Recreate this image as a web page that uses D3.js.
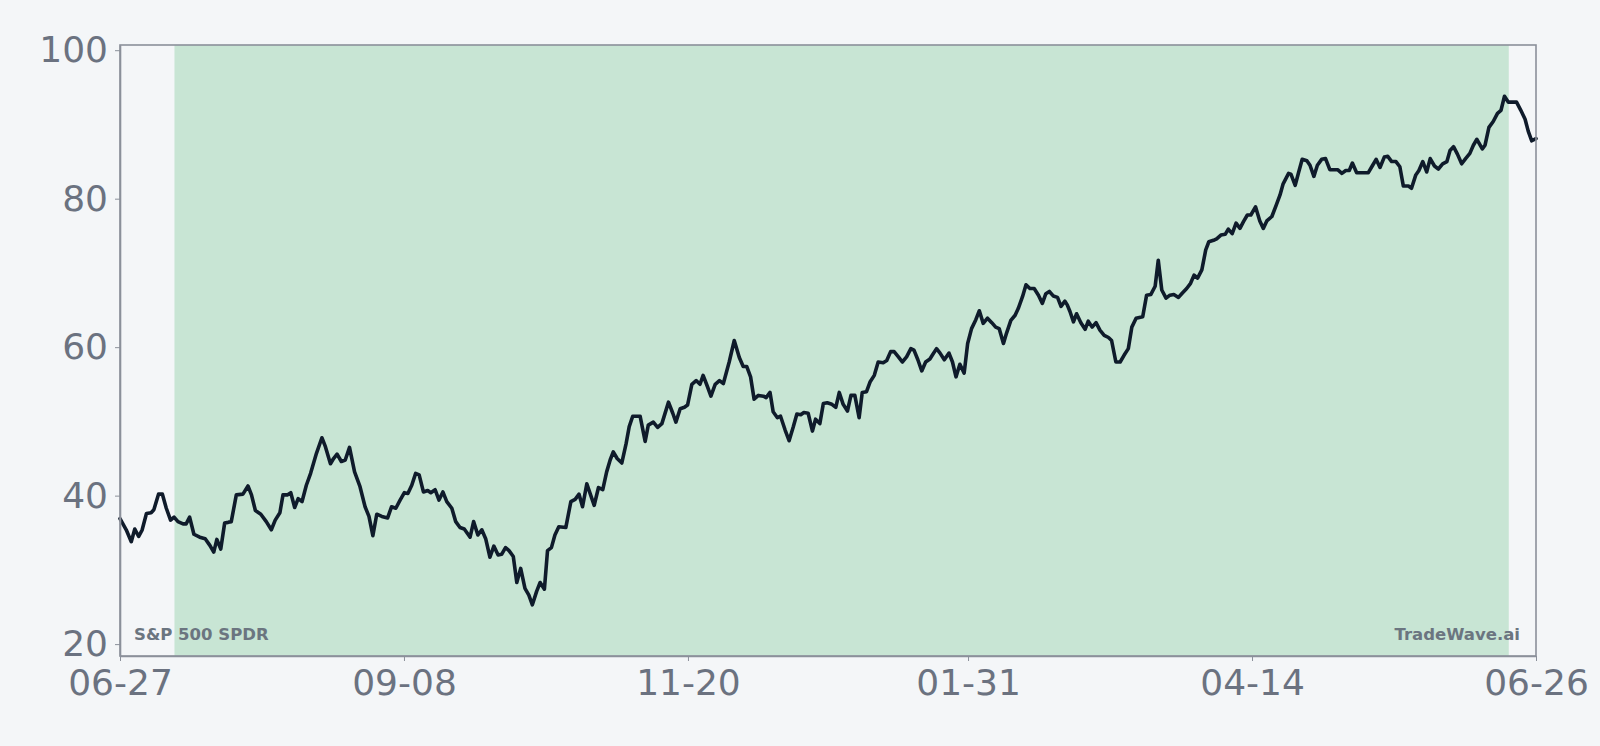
<!DOCTYPE html>
<html>
<head>
<meta charset="utf-8">
<script src="https://cdn.jsdelivr.net/npm/d3@7"></script>
<style>
  html, body { margin: 0; padding: 0; background: #f4f6f8; }
  svg { display: block; }
</style>
</head>
<body>
<svg id="chart" width="1600" height="746"></svg>
<script>
// ---- Data ----
const startDateStr = "2024-06-27";
const endDateStr = "2025-06-26";

// days after the start date for each point of the line
const dayOffsets = [
  0,1.6,2.9,3.8,4.8,5.7,6.8,8.0,8.7,9.9,10.9,11.9,13.0,13.9,14.9,16.2,17.0,17.9,19.0,20.5,
  21.9,23.1,24.1,24.9,25.9,26.9,27.8,28.6,29.9,31.6,32.9,33.8,34.8,36.2,37.6,38.9,39.9,41.1,41.9,43.0,
  43.9,44.9,45.8,46.8,47.9,49.0,50.5,51.9,52.8,54.1,54.9,55.8,56.9,57.9,59.0,60.3,
  61.7,63.0,64.0,65.0,66.0,67.3,68.8,69.8,70.9,72.0,73.1,74.0,75.0,76.0,76.9,78.0,79.1,79.9,81.0,82.0,
  83.0,84.0,85.3,86.3,87.4,88.5,90.0,90.9,92.0,93.0,94.0,95.1,96.1,97.2,98.1,99.1,100.0,101.1,102.0,103.0,
  104.1,105.1,106.0,107.1,108.0,109.1,109.9,110.9,111.8,112.8,114.6,115.9,117.0,118.0,118.9,120.0,121.3,121.9,
  123.0,124.1,125.1,126.0,126.8,127.8,129.0,130.1,130.9,131.8,133.7,135.0,135.8,137.1,138.2,139.3,141.0,142.1,142.9,144.0,
  145.1,145.9,147.0,148.1,149.1,149.9,151.0,151.9,153.0,154.1,155.1,156.6,157.9,159.2,160.2,161.1,162.1,163.0,164.1,165.4,
  166.1,167.1,167.9,169.0,169.8,171.0,172.0,173.1,174.0,175.0,175.8,176.9,178.0,178.8,179.9,180.8,181.8,183.0,
  184.0,184.9,185.9,187.0,187.9,188.9,190.0,190.8,191.9,192.8,193.9,194.9,196.2,197.1,198.1,199.0,200.1,201.1,202.2,203.3,
  204.1,205.1,206.1,207.1,208.2,208.8,209.9,210.8,211.9,213.1,214.0,214.9,215.9,217.0,217.9,218.9,220.0,220.9,221.9,223.0,
  224.1,225.1,226.0,227.1,227.9,229.0,230.1,230.9,232.0,232.9,233.9,235.0,236.1,237.1,238.0,238.9,239.9,241.0,241.9,242.9,
  243.5,244.2,245.1,245.9,247.0,248.1,248.9,249.9,250.9,251.9,253.0,254.1,254.9,256.0,257.1,258.1,259.2,260.1,261.2,262.9,
  263.9,265.0,266.1,266.9,267.8,268.9,269.9,270.9,272.1,273.1,274.2,275.2,276.1,277.0,278.1,279.1,279.9,281.1,281.9,283.0,
  284.1,284.9,285.9,286.9,287.9,288.8,289.8,290.7,291.9,293.0,293.9,294.8,296.1,297.2,298.2,299.0,300.4,301.0,
  302.1,302.9,303.9,305.1,305.9,306.9,307.8,308.9,309.9,311.0,312.2,313.0,314.1,315.1,316.0,316.8,317.9,319.2,320.9,321.9,
  322.9,323.9,325.0,325.9,326.9,328.0,329.0,329.9,331.2,332.0,333.1,333.9,334.9,335.9,336.8,337.9,338.9,340.0,341.1,341.9,
  342.8,343.8,344.9,345.9,347.0,347.9,348.8,350.2,350.9,351.9,353.0,354.1,355.0,355.9,356.9,357.9,359.0,360.1,361.2,362.0,
  362.9,364
];

const values = [
  36.9,35.4,33.8,35.5,34.5,35.4,37.6,37.7,38.1,40.2,40.2,38.3,36.7,37.1,36.5,36.2,36.2,37.1,34.8,34.4,
  34.2,33.3,32.4,34.1,32.8,36.3,36.4,36.5,40.1,40.2,41.3,40.1,38.0,37.5,36.5,35.4,36.7,37.7,40.1,40.1,
  40.4,38.4,39.6,39.2,41.4,43.0,45.7,47.8,46.6,44.3,45.0,45.6,44.6,44.8,46.5,43.2,
  41.2,38.5,37.2,34.6,37.5,37.2,37.0,38.5,38.3,39.4,40.4,40.3,41.4,43.0,42.8,40.5,40.7,40.4,40.8,39.4,
  40.5,39.2,38.3,36.5,35.7,35.5,34.4,36.5,34.7,35.4,34.2,31.7,33.2,32.0,32.1,33.0,32.6,31.8,28.3,30.2,
  27.5,26.6,25.3,27.1,28.3,27.4,32.6,33.0,34.7,35.8,35.7,39.2,39.5,40.2,38.5,41.6,39.6,38.7,
  41.1,40.8,43.2,44.8,45.9,45.0,44.4,47.0,49.3,50.7,50.7,47.3,49.5,49.9,49.2,49.7,52.6,51.1,49.9,51.7,
  51.9,52.2,55.0,55.5,55.0,56.2,54.7,53.4,55.0,55.5,55.1,58.0,60.9,58.6,57.4,57.4,56.0,53.0,53.5,53.4,
  53.2,53.9,51.3,50.5,50.7,48.8,47.4,49.3,51.0,50.9,51.2,51.1,48.7,50.3,49.7,52.4,52.5,52.3,
  51.9,53.9,52.3,51.4,53.5,53.5,50.5,53.9,54.0,55.3,56.2,58.0,57.9,58.2,59.4,59.4,58.7,58.0,58.7,59.8,
  59.6,58.3,56.8,58.0,58.4,58.9,59.8,59.2,58.3,59.2,58.0,56.0,57.7,56.5,60.5,62.5,63.7,64.9,63.2,63.9,
  63.3,62.7,62.5,60.5,61.9,63.6,64.3,65.2,66.8,68.4,67.9,67.9,67.0,65.9,67.2,67.5,66.9,66.7,65.5,66.2,
  65.7,64.8,63.4,64.5,63.3,62.4,63.5,62.7,63.3,62.3,61.6,61.3,60.9,58.0,58.0,58.9,59.8,62.7,63.9,64.1,
  67.0,67.1,68.2,71.7,67.7,66.6,67.0,67.1,66.7,67.3,67.9,68.6,69.7,69.3,70.4,73.1,74.2,74.4,74.6,75.1,
  75.2,75.9,75.3,76.7,76.0,76.9,77.8,77.8,78.9,77.0,76.0,77.0,77.6,79.1,80.5,82.0,83.4,83.3,
  81.8,83.4,85.3,85.1,84.5,83.0,84.5,85.3,85.4,83.9,83.9,83.9,83.4,83.8,83.8,84.8,83.5,83.5,83.5,84.4,
  85.3,84.2,85.6,85.7,85.0,85.0,84.3,81.7,81.7,81.4,83.2,83.8,85.0,83.6,85.4,84.4,84.0,84.7,85.0,86.5,
  87.0,86.0,84.7,85.4,86.1,87.2,88.0,86.7,87.2,89.6,90.4,91.5,91.9,93.8,93.0,93.0,93.0,91.9,90.7,89.1,
  87.8,88.1
];

const xTickDates = ["2024-06-27","2024-09-08","2024-11-20","2025-01-31","2025-04-14","2025-06-26"];
const yTicks = [20, 40, 60, 80, 100];
const yDomain = [18.4, 100.7];
const bandStartStr = "2024-07-11";
const bandEndStr = "2025-06-19";
const seriesLabel = "S&P 500 SPDR";
const brandLabel = "TradeWave.ai";

// ---- Chart ----
const parse = d3.utcParse("%Y-%m-%d");
const start = parse(startDateStr);
const end = parse(endDateStr);
const data = dayOffsets.map((d, i) => ({ date: new Date(start.getTime() + d * 864e5), value: values[i] }));

const margin = { left: 120, top: 45, right: 64, bottom: 90 };
const W = 1600, H = 746;
const svg = d3.select("#chart");

const x = d3.scaleUtc().domain([start, end]).range([margin.left, W - margin.right]);
const y = d3.scaleLinear().domain(yDomain).range([H - margin.bottom, margin.top]);

const axisColor = "#8b909a";
const labelColor = "#6b7280";

// band
svg.append("rect")
  .attr("x", x(parse(bandStartStr)))
  .attr("y", margin.top)
  .attr("width", x(parse(bandEndStr)) - x(parse(bandStartStr)))
  .attr("height", y.range()[0] - margin.top)
  .attr("fill", "#c8e5d4");

// line
const line = d3.line().x(d => x(d.date)).y(d => y(d.value)).curve(d3.curveLinear);
svg.append("path")
  .datum(data)
  .attr("d", line)
  .attr("fill", "none")
  .attr("stroke", "#0f1b2b")
  .attr("stroke-width", 3.6)
  .attr("stroke-linejoin", "round")
  .attr("stroke-linecap", "round");

// frame
svg.append("rect")
  .attr("x", margin.left)
  .attr("y", margin.top)
  .attr("width", x.range()[1] - margin.left)
  .attr("height", y.range()[0] - margin.top)
  .attr("fill", "none")
  .attr("stroke", axisColor)
  .attr("stroke-width", 1.6);

// axes
const xAxis = d3.axisBottom(x)
  .tickValues(xTickDates.map(parse))
  .tickFormat(d3.utcFormat("%m-%d"))
  .tickSize(5).tickSizeOuter(0).tickPadding(8);
const gx = svg.append("g").attr("transform", `translate(0,${y.range()[0]})`).call(xAxis);

const yAxis = d3.axisLeft(y).tickValues(yTicks).tickSize(5).tickSizeOuter(0).tickPadding(7);
const gy = svg.append("g").attr("transform", `translate(${margin.left},0)`).call(yAxis);

[gx, gy].forEach(g => {
  g.select(".domain").attr("stroke", axisColor).attr("stroke-width", 1.6);
  g.selectAll(".tick line").attr("stroke", axisColor).attr("stroke-width", 1);
  g.selectAll(".tick text")
    .attr("fill", labelColor)
    .style("font-family", "'DejaVu Sans', sans-serif")
    .style("font-size", "36px");
});

// annotations
svg.append("text")
  .attr("x", margin.left + 14).attr("y", 640)
  .attr("fill", "#6b7580")
  .style("font-family", "'DejaVu Sans', sans-serif")
  .style("font-weight", "bold")
  .style("font-size", "16.5px")
  .text(seriesLabel);

svg.append("text")
  .attr("x", x.range()[1] - 16).attr("y", 640)
  .attr("text-anchor", "end")
  .attr("fill", "#6b7580")
  .style("font-family", "'DejaVu Sans', sans-serif")
  .style("font-weight", "bold")
  .style("font-size", "16.5px")
  .text(brandLabel);
</script>
</body>
</html>
